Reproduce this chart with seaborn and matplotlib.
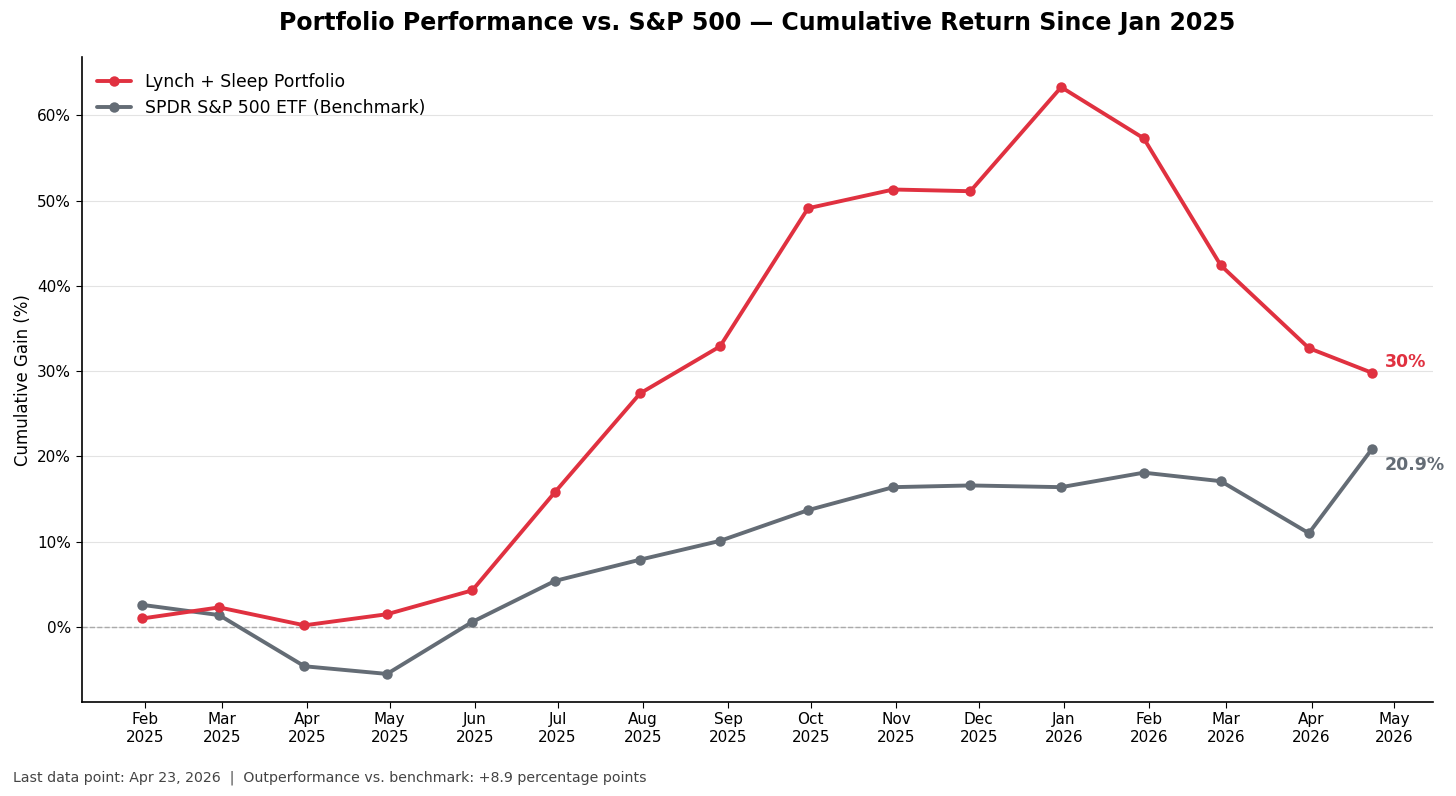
import pandas as pd
import matplotlib.pyplot as plt
import matplotlib.dates as mdates
from matplotlib.ticker import FuncFormatter
import seaborn as sns

dates = ["2025-01-31", "2025-02-28", "2025-03-31", "2025-04-30", "2025-05-31",
         "2025-06-30", "2025-07-31", "2025-08-29", "2025-09-30", "2025-10-31",
         "2025-11-28", "2025-12-31", "2026-01-30", "2026-02-27", "2026-03-31",
         "2026-04-23"]
portfolio = [1.0, 2.3, 0.2, 1.5, 4.3, 15.8, 27.4, 32.9, 49.1, 51.3,
             51.1, 63.3, 57.3, 42.4, 32.7, 29.8]
benchmark = [2.6, 1.4, -4.6, -5.5, 0.6, 5.4, 7.9, 10.1, 13.7, 16.4,
             16.6, 16.4, 18.1, 17.1, 11.0, 20.9]

red = "#e03140"
grey = "#646c75"

df = pd.DataFrame({"Date": pd.to_datetime(dates),
                   "Portfolio": portfolio,
                   "Benchmark": benchmark})

sns.set_style("white")
plt.rcParams["font.family"] = ["DejaVu Sans"]
plt.rcParams["text.color"] = "black"
plt.rcParams["axes.labelcolor"] = "black"
plt.rcParams["xtick.color"] = "black"
plt.rcParams["ytick.color"] = "black"

fig, ax = plt.subplots(figsize=(14.56, 7.96), dpi=100)

sns.lineplot(data=df, x="Date", y="Benchmark", ax=ax, color=grey, lw=2.8,
             marker="o", markersize=7.5, markeredgewidth=0,
             label="SPDR S&P 500 ETF (Benchmark)", zorder=3)
sns.lineplot(data=df, x="Date", y="Portfolio", ax=ax, color=red, lw=2.8,
             marker="o", markersize=7.5, markeredgewidth=0,
             label="Lynch + Sleep Portfolio", zorder=4)

ax.axhline(0, color="#aaaaaa", lw=1, ls="--", zorder=1)
ax.yaxis.grid(True, color="#e3e3e3", lw=0.8)
ax.set_axisbelow(True)

ax.set_ylim(-8.8, 66.8)
ax.set_yticks(range(0, 70, 10))
ax.yaxis.set_major_formatter(FuncFormatter(lambda v, p: f"{v:.0f}%"))
ax.set_xlim(pd.Timestamp("2025-01-09"), pd.Timestamp("2026-05-15"))
ax.xaxis.set_major_locator(mdates.MonthLocator())
ax.xaxis.set_major_formatter(mdates.DateFormatter("%b\n%Y"))
ax.tick_params(axis="both", labelsize=11, length=4, color="black", left=True, bottom=True)
ax.set_xlabel("")
ax.set_ylabel("Cumulative Gain (%)", fontsize=12)

for s in ["top", "right"]:
    ax.spines[s].set_visible(False)
for s in ["left", "bottom"]:
    ax.spines[s].set_color("black")
    ax.spines[s].set_linewidth(1.2)

last = df.iloc[-1]
ax.annotate(f"{last['Portfolio']:.0f}%", (last["Date"], last["Portfolio"]),
            xytext=(9, 8), textcoords="offset points", color=red,
            fontsize=12.5, fontweight="bold", va="center")
ax.annotate(f"{last['Benchmark']:.1f}%", (last["Date"], last["Benchmark"]),
            xytext=(9, -12), textcoords="offset points", color=grey,
            fontsize=12.5, fontweight="bold", va="center")

handles, labels = ax.get_legend_handles_labels()
ax.legend(handles[::-1], labels[::-1], loc="upper left", frameon=False, fontsize=12.4)

ax.set_title("Portfolio Performance vs. S&P 500 \u2014 Cumulative Return Since Jan 2025",
             fontsize=17, fontweight="bold", pad=20)

fig.text(0.009, 0.018, "Last data point: Apr 23, 2026  |  Outperformance vs. benchmark: +8.9 percentage points",
         fontsize=10.2, color="#444444")

fig.subplots_adjust(left=0.056, right=0.984, top=0.928, bottom=0.118)
fig.savefig("out.png", dpi=100)
